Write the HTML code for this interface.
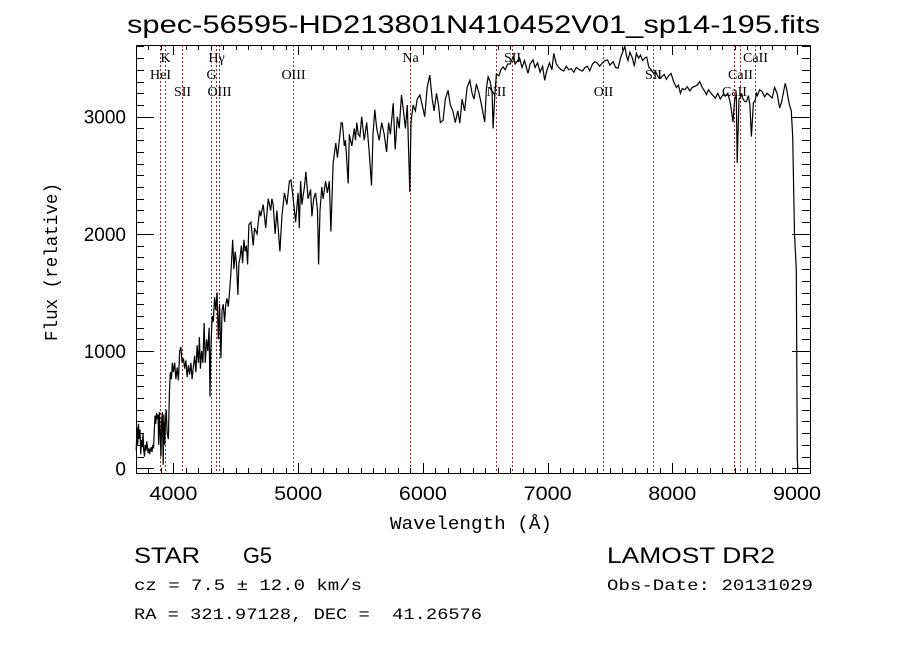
<!DOCTYPE html>
<html><head><meta charset="utf-8"><style>
body{margin:0;background:#fff;width:900px;height:649px;overflow:hidden}
svg{display:block}
.t{font-family:"Liberation Sans",sans-serif}
.m{font-family:"Liberation Mono",monospace}
.s{font-family:"Liberation Serif",serif}
</style></head><body>
<svg id="c" width="900" height="649">
<text class="t" x="127" y="33" font-size="25" textLength="693" lengthAdjust="spacingAndGlyphs">spec-56595-HD213801N410452V01_sp14-195.fits</text>
<text class="m" x="390" y="529" font-size="18" textLength="162" lengthAdjust="spacingAndGlyphs">Wavelength (Å)</text>
<text class="m" x="0" y="0" font-size="18" textLength="158" lengthAdjust="spacingAndGlyphs" transform="translate(57,341) rotate(-90)">Flux (relative)</text>
<text class="t" x="134" y="563" font-size="22" textLength="66" lengthAdjust="spacingAndGlyphs">STAR</text>
<text class="t" x="243" y="563" font-size="22" textLength="29" lengthAdjust="spacingAndGlyphs">G5</text>
<text class="t" x="607" y="563" font-size="22" textLength="168" lengthAdjust="spacingAndGlyphs">LAMOST DR2</text>
<text class="m" x="134" y="590" font-size="16" textLength="228" lengthAdjust="spacingAndGlyphs">cz = 7.5 ± 12.0 km/s</text>
<text class="m" x="607" y="590" font-size="16" textLength="206" lengthAdjust="spacingAndGlyphs">Obs-Date: 20131029</text>
<text class="m" x="134" y="619" font-size="16" textLength="348" lengthAdjust="spacingAndGlyphs" xml:space="preserve">RA = 321.97128, DEC =  41.26576</text>
<g id="plot"></g>
</svg>
<script>
const xTicks=[4000,5000,6000,7000,8000,9000];
const yTicks=[0,1000,2000,3000];
const lineNames=["K","HeI","SII","H\u03b3","G","OIII","OIII","Na","NII","SII","OII","SII","CaII","CaII","CaII"];
const lineWaves=[3934,3889,4072,4341,4305,4363,4959,5893,6583,6716,7442,7843,8498,8542,8662];
const lineRows=[0,1,2,0,1,2,1,0,2,0,2,1,2,1,0];
const wave=[3702,3708,3714,3720,3726,3732,3738,3744,3750,3756,3762,3768,3774,3780,3786,3792,3798,3804,3810,3816,3822,3828,3834,3840,3846,3852,3858,3864,3870,3876,3882,3888,3894,3900,3906,3912,3918,3924,3930,3936,3942,3950,3960,3968,3976,3984,3992,4000,4010,4020,4030,4040,4050,4060,4070,4080,4090,4100,4110,4120,4130,4140,4150,4160,4170,4180,4190,4200,4208,4216,4226,4236,4246,4256,4266,4276,4286,4293,4300,4310,4320,4330,4340,4350,4360,4370,4381,4390,4400,4410,4420,4430,4440,4450,4460,4475,4485,4495,4505,4517,4525,4535,4545,4555,4565,4575,4585,4595,4605,4621,4640,4650,4670,4690,4700,4720,4740,4760,4770,4780,4790,4800,4815,4830,4854,4870,4890,4910,4930,4943,4960,4980,5000,5009,5020,5030,5050,5062,5080,5100,5110,5125,5140,5155,5164,5175,5190,5200,5220,5235,5250,5263,5280,5292,5302,5315,5330,5345,5355,5370,5380,5401,5410,5430,5450,5460,5470,5482,5495,5510,5530,5550,5570,5588,5600,5615,5630,5650,5670,5690,5709,5725,5740,5762,5778,5795,5810,5829,5845,5860,5875,5895,5905,5922,5940,5955,5976,5995,6015,6035,6056,6075,6090,6109,6125,6140,6162,6180,6202,6220,6240,6260,6280,6296,6315,6335,6355,6376,6395,6410,6429,6450,6470,6496,6510,6523,6540,6555,6563,6575,6590,6610,6625,6643,6660,6680,6700,6723,6740,6760,6776,6795,6815,6843,6860,6883,6900,6920,6940,6960,6977,6995,7015,7035,7050,7070,7090,7110,7130,7150,7170,7190,7210,7230,7258,7280,7300,7320,7338,7360,7380,7400,7418,7440,7460,7480,7500,7525,7545,7565,7585,7605,7620,7633,7645,7660,7680,7695,7712,7730,7745,7762,7779,7795,7812,7832,7850,7868,7886,7905,7920,7935,7953,7970,7990,8010,8033,8050,8065,8080,8100,8120,8140,8160,8180,8200,8220,8240,8258,8273,8290,8310,8327,8345,8365,8385,8407,8425,8445,8465,8487,8500,8508,8513,8520,8535,8548,8556,8564,8580,8595,8610,8622,8634,8650,8665,8674,8682,8700,8720,8740,8760,8780,8800,8820,8840,8860,8875,8890,8905,8914,8925,8940,8954,8965,8980,8994,9002,9007,9009,9011,9013,9016];
const flux=[150,350,200,380,250,330,120,240,180,300,160,100,200,150,230,180,130,170,120,160,180,140,200,170,300,450,380,470,420,460,200,480,300,100,420,480,30,460,200,380,500,300,250,650,820,760,900,820,900,760,860,750,1000,1035,900,940,850,920,780,880,800,900,760,870,960,820,1050,900,1120,850,1000,900,1240,900,1100,1000,1200,610,1000,1300,1250,1460,1350,1500,1100,1400,940,1350,1400,1250,1400,1450,1380,1500,1650,1950,1700,1850,1750,1480,1750,1800,1900,1750,1950,1850,1900,1740,2080,2100,1900,2050,2000,2200,2150,2250,2050,2300,2250,2200,2300,2250,2000,2200,1850,2150,2350,2250,2450,2460,2300,2100,2350,2050,2450,2250,2400,2530,2300,2380,2150,2300,2350,2200,1740,2200,2400,2300,2450,2350,2450,2020,2600,2700,2775,2650,2800,2950,2945,2750,2800,2430,2850,2750,2900,2800,2950,2850,2830,3000,2800,2950,2700,2415,2850,3060,2900,2800,2950,2850,2700,2950,2850,3115,2720,3000,2900,3185,3050,2900,3100,2360,2950,3100,3050,3150,3185,3100,3000,3250,3355,3150,3050,3200,3100,2950,2970,3150,3225,3100,3050,2950,3050,2945,3150,3050,3250,3310,3200,3150,3280,3200,3100,2955,3250,3340,3300,3200,2900,3150,3365,3350,3400,3425,3400,3450,3450,3510,3450,3480,3500,3420,3480,3370,3450,3485,3420,3460,3380,3430,3310,3400,3460,3400,3540,3450,3420,3400,3390,3430,3400,3410,3380,3420,3400,3390,3420,3430,3390,3450,3470,3455,3430,3460,3480,3485,3440,3470,3420,3415,3500,3560,3600,3520,3480,3550,3500,3430,3540,3500,3525,3480,3500,3510,3420,3400,3370,3380,3340,3330,3345,3360,3320,3350,3370,3300,3250,3270,3200,3240,3230,3255,3220,3250,3260,3270,3300,3250,3220,3190,3230,3200,3180,3160,3200,3150,3190,3175,3200,3120,2955,3150,3170,3200,2605,3150,3170,3200,3160,3130,3130,3180,3100,2830,3120,3140,3200,3180,3230,3215,3170,3200,3180,3160,3250,3200,3075,3120,3200,3285,3250,3180,3100,3050,2830,2000,1700,70,0];
const X0=3700,X1=9104,Y0=-40,Y1=3612,L=136,R=810,T=45,B=473;
const sx=w=>L+(w-X0)/(X1-X0)*(R-L);
const sy=f=>B-(f-Y0)/(Y1-Y0)*(B-T);
const NS="http://www.w3.org/2000/svg";
const g=document.getElementById('plot');
function mk(tag,attrs){const e=document.createElementNS(NS,tag);for(const k in attrs)e.setAttribute(k,attrs[k]);g.appendChild(e);return e;}
lineWaves.forEach((w,i)=>{
 const x=Math.round(sx(w))+0.5;
 const ln=mk('line',{x1:x,x2:x,y1:T,y2:B,stroke:'#8b2a2a','stroke-width':1,'stroke-dasharray':'2,2'});
 
 
 const t=mk('text',{x:x,y:62+lineRows[i]*17,'font-size':14,'text-anchor':'middle',class:'s'});
 t.textContent=lineNames[i];
 
 
});
let d='';
wave.forEach((w,i)=>{d+=(i?'L':'M')+sx(w).toFixed(1)+','+sy(flux[i]).toFixed(1);});
const p=mk('path',{d:d,fill:'none',stroke:'#000','stroke-width':1.2});


const fr=mk('rect',{x:L+0.5,y:T+0.5,width:R-L,height:B-T,fill:'none',stroke:'#000','stroke-width':1});


for(let w=3700;w<=9100;w+=100){const x=Math.round(sx(w))+0.5;const major=w%1000===0;const len=major?10:5;
 mk('line',{x1:x,x2:x,y1:B,y2:B-len,stroke:'#000'});mk('line',{x1:x,x2:x,y1:T,y2:T+len,stroke:'#000'});}
for(let f=0;f<=3600;f+=100){const y=Math.round(sy(f))+0.5;const major=f%1000===0;const len=major?18:8;
 mk('line',{x1:L,x2:L+len,y1:y,y2:y,stroke:'#000'});mk('line',{x1:R,x2:R-len,y1:y,y2:y,stroke:'#000'});}
xTicks.forEach(v=>{const t=mk('text',{x:sx(v)-24,y:B+27,'font-size':19,textLength:48,lengthAdjust:'spacingAndGlyphs',class:'t'});t.textContent=v;
 
 });
yTicks.forEach(v=>{const t=mk('text',{x:L-10,y:sy(v)+7,'font-size':19,'text-anchor':'end',class:'t'});t.textContent=v;
 
 });
</script>
</body></html>
